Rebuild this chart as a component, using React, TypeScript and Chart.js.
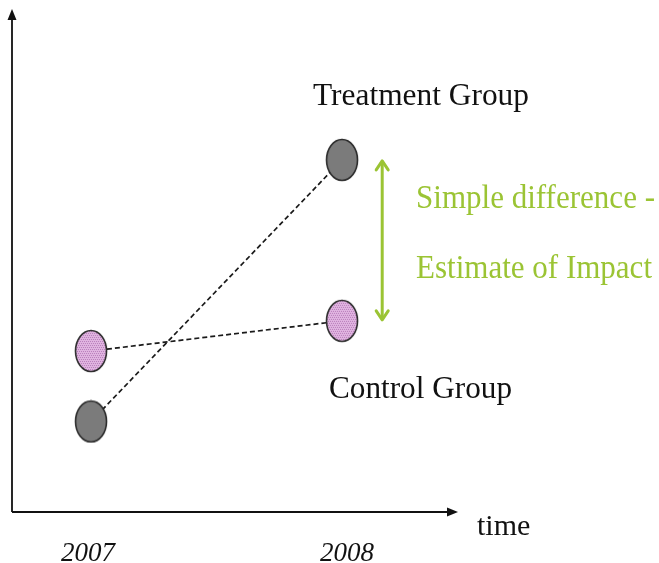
import React, { useEffect, useRef } from "react";
import { Chart, registerables } from "chart.js";

Chart.register(...registerables);

// Survey years on the time axis
const years = [2007, 2008];
const yearLabels = ["2007", "2008"];

// Outcome level for each group, per year
const treatmentValues = [1.8, 7.0];
const controlValues = [3.2, 3.8];

const seriesNames = ["Treatment Group", "Control Group"];
const impactLines = ["Simple difference -", "Estimate of Impact"];
const axisTitle = "time";

const GREEN = "#9BC434";

// Filled ellipse marker used as a point style
function makeMarker(fill: string, stipple: string | null): HTMLCanvasElement {
  const w = 34;
  const h = 44;
  const c = document.createElement("canvas");
  c.width = w;
  c.height = h;
  const ctx = c.getContext("2d")!;
  ctx.save();
  ctx.beginPath();
  ctx.ellipse(w / 2, h / 2, 15.5, 20.5, 0, 0, Math.PI * 2);
  ctx.fillStyle = fill;
  ctx.fill();
  if (stipple) {
    ctx.clip();
    ctx.fillStyle = stipple;
    for (let y = 0; y < h; y += 2) {
      for (let x = (y / 2) % 2; x < w; x += 2) {
        ctx.fillRect(x, y, 1, 1);
      }
    }
  }
  ctx.restore();
  ctx.beginPath();
  ctx.ellipse(w / 2, h / 2, 15.5, 20.5, 0, 0, Math.PI * 2);
  ctx.strokeStyle = "#2a2a2a";
  ctx.lineWidth = 1.6;
  ctx.stroke();
  return c;
}

function arrowHead(ctx: CanvasRenderingContext2D, x: number, y: number, dir: "up" | "right", len: number, half: number) {
  ctx.beginPath();
  if (dir === "up") {
    ctx.moveTo(x, y);
    ctx.lineTo(x - half, y + len);
    ctx.lineTo(x + half, y + len);
  } else {
    ctx.moveTo(x, y);
    ctx.lineTo(x - len, y - half);
    ctx.lineTo(x - len, y + half);
  }
  ctx.closePath();
  ctx.fill();
}

const decorations = {
  id: "decorations",
  beforeDatasetsDraw(chart: any) {
    const { ctx, chartArea } = chart;
    const { left, top, right, bottom } = chartArea;
    ctx.save();
    ctx.strokeStyle = "#111";
    ctx.fillStyle = "#111";
    ctx.lineWidth = 1.8;
    ctx.beginPath();
    ctx.moveTo(left, bottom);
    ctx.lineTo(left, top + 6);
    ctx.moveTo(left, bottom);
    ctx.lineTo(right - 6, bottom);
    ctx.stroke();
    arrowHead(ctx, left, top, "up", 11, 4.5);
    arrowHead(ctx, right, bottom, "right", 11, 4.5);
    ctx.restore();
  },
  afterDatasetsDraw(chart: any) {
    const { ctx } = chart;
    const xs = chart.scales.x;
    const ys = chart.scales.y;
    ctx.save();

    // Year labels under the axis
    const labelShift = [-3, 5];
    ctx.fillStyle = "#111";
    ctx.font = "italic 27px 'Liberation Serif'";
    ctx.textAlign = "center";
    ctx.textBaseline = "alphabetic";
    years.forEach((yr, i) => {
      ctx.fillText(yearLabels[i], xs.getPixelForValue(yr) + labelShift[i], 561);
    });

    // Axis title
    ctx.textAlign = "left";
    ctx.font = "30px 'Liberation Serif'";
    ctx.fillText(axisTitle, 477, 535);

    // Group labels
    ctx.font = "32px 'Liberation Serif'";
    ctx.fillText(seriesNames[0], 313, 105, 216);
    ctx.fillText(seriesNames[1], 329, 398, 183);

    // Double arrow spanning the 2008 gap between groups
    const ax = xs.getPixelForValue(2008.16);
    const yTop = ys.getPixelForValue(treatmentValues[1]);
    const yBot = ys.getPixelForValue(controlValues[1]);
    ctx.strokeStyle = GREEN;
    ctx.fillStyle = GREEN;
    ctx.lineWidth = 3;
    ctx.beginPath();
    ctx.moveTo(ax, yTop + 3);
    ctx.lineTo(ax, yBot - 3);
    ctx.stroke();
    ctx.lineWidth = 3;
    ctx.lineJoin = "round";
    ctx.lineCap = "round";
    ctx.beginPath();
    ctx.moveTo(ax - 6, yTop + 10);
    ctx.lineTo(ax, yTop + 1);
    ctx.lineTo(ax + 6, yTop + 10);
    ctx.moveTo(ax - 6, yBot - 10);
    ctx.lineTo(ax, yBot - 1);
    ctx.lineTo(ax + 6, yBot - 10);
    ctx.stroke();

    ctx.font = "33px 'Liberation Serif'";
    ctx.fillText(impactLines[0], 416, 208, 239);
    ctx.fillText(impactLines[1], 416, 278, 236);

    ctx.restore();
  },
};

export default function App() {
  const canvasRef = useRef<HTMLCanvasElement | null>(null);

  useEffect(() => {
    document.body.style.margin = "0";
    const canvas = canvasRef.current;
    if (!canvas) return;

    const grayMarker = makeMarker("#7b7b7b", null);
    const pinkMarker = makeMarker("#e2b6e2", "#b57ab8");

    const chart = new Chart(canvas, {
      type: "scatter",
      data: {
        datasets: [
          {
            label: seriesNames[0],
            data: years.map((x, i) => ({ x, y: treatmentValues[i] })),
            showLine: true,
            borderColor: "#1a1a1a",
            borderWidth: 1.7,
            borderDash: [5, 3],
            pointStyle: grayMarker as any,
            pointRadius: 16,
          },
          {
            label: seriesNames[1],
            data: years.map((x, i) => ({ x, y: controlValues[i] })),
            showLine: true,
            borderColor: "#1a1a1a",
            borderWidth: 1.7,
            borderDash: [5, 3],
            pointStyle: pinkMarker as any,
            pointRadius: 16,
          },
        ],
      },
      options: {
        animation: false,
        responsive: false,
        devicePixelRatio: 1,
        layout: { autoPadding: false, padding: { left: 12, top: 9, right: 201, bottom: 51 } },
        plugins: {
          legend: { display: false },
          tooltip: { enabled: false },
        },
        scales: {
          x: { type: "linear", display: false, min: 2006.685, max: 2008.462 },
          y: { type: "linear", display: false, min: 0, max: 10 },
        },
      },
      plugins: [decorations],
    });

    return () => chart.destroy();
  }, []);

  return (
    <div style={{ width: 659, height: 563, background: "#fff" }}>
      <canvas ref={canvasRef} width={659} height={563} style={{ display: "block" }} />
    </div>
  );
}
